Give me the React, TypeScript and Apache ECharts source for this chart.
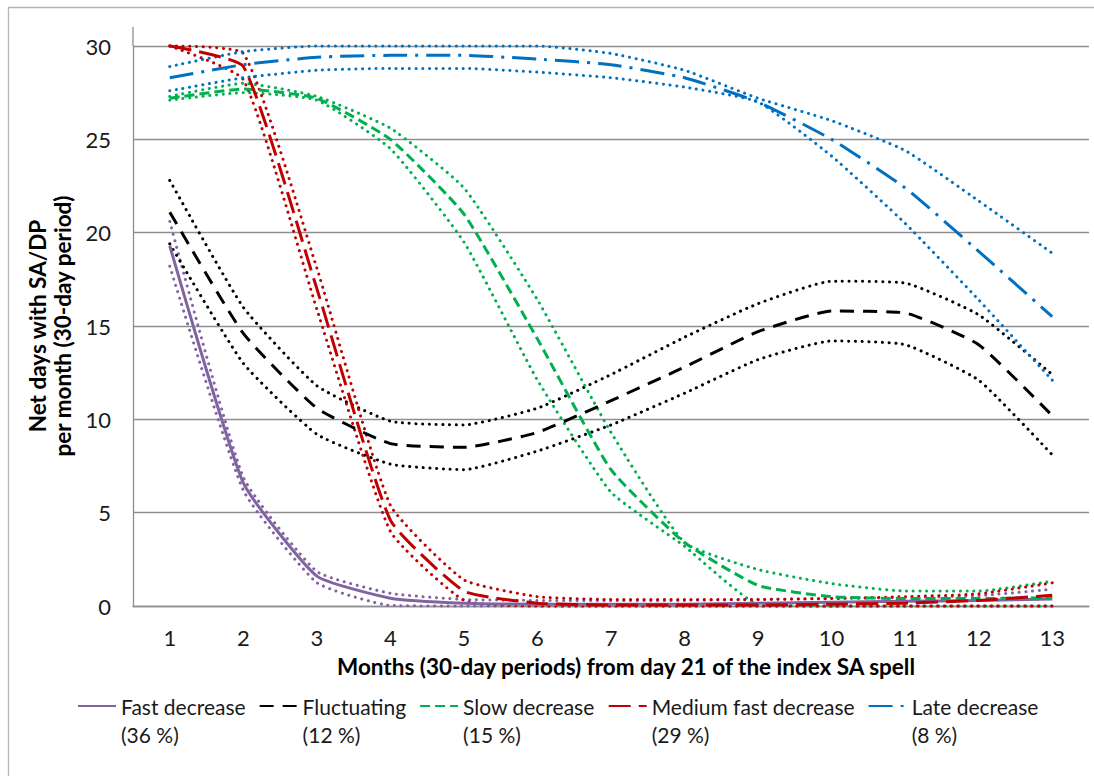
import React, { useEffect, useRef } from "react";
import * as echarts from "echarts";

const categories = ["1", "2", "3", "4", "5", "6", "7", "8", "9", "10", "11", "12", "13"];

const legendNames = ["Fast decrease", "Fluctuating", "Slow decrease", "Medium fast decrease", "Late decrease"];
const legendShares = ["36 %", "12 %", "15 %", "29 %", "8 %"];

const fast = [19.3, 6.6, 1.6, 0.42, 0.15, 0.1, 0.1, 0.1, 0.15, 0.2, 0.25, 0.3, 0.38];
const fastHi = [20.6, 6.9, 1.85, 0.68, 0.35, 0.3, 0.3, 0.3, 0.35, 0.4, 0.45, 0.55, 0.9];
const fastLo = [18.2, 6.2, 1.25, 0.03, 0, 0, 0, 0, 0, 0, 0, 0, 0];

const fluct = [21.1, 14.6, 10.6, 8.7, 8.5, 9.3, 11.0, 12.8, 14.7, 15.8, 15.7, 14.0, 10.2];
const fluctHi = [22.8, 16.0, 11.8, 9.9, 9.7, 10.6, 12.4, 14.4, 16.2, 17.4, 17.3, 15.6, 12.4];
const fluctLo = [19.4, 13.0, 9.2, 7.6, 7.3, 8.3, 9.7, 11.4, 13.2, 14.2, 14.0, 12.1, 8.1];

const slow = [27.2, 27.7, 27.2, 25.0, 21.0, 14.3, 7.3, 3.4, 1.1, 0.5, 0.4, 0.4, 0.45];
const slowHi = [27.3, 28.0, 27.3, 25.6, 22.4, 16.4, 9.3, 3.4, 1.95, 1.2, 0.8, 0.8, 1.33];
const slowLo = [27.1, 27.5, 27.1, 24.5, 19.5, 12.1, 6.1, 3.2, 0.1, 0, 0, 0, 0];

const medium = [30.0, 28.9, 17.0, 4.6, 0.8, 0.15, 0.05, 0.05, 0.05, 0.1, 0.15, 0.3, 0.57];
const mediumHi = [30.0, 29.6, 18.1, 5.4, 1.4, 0.5, 0.35, 0.35, 0.35, 0.4, 0.5, 0.65, 1.24];
const mediumLo = [30.0, 28.2, 15.9, 4.0, 0.3, 0, 0, 0, 0, 0, 0, 0, 0];

const late = [28.3, 29.0, 29.4, 29.5, 29.5, 29.3, 29.0, 28.3, 27.0, 25.0, 22.4, 19.0, 15.5];
const lateHi = [28.9, 29.7, 30.0, 30.0, 30.0, 30.0, 29.6, 28.7, 27.2, 26.0, 24.4, 21.7, 18.9];
const lateLo = [27.6, 28.3, 28.7, 28.8, 28.8, 28.6, 28.3, 27.8, 27.0, 24.1, 20.5, 16.4, 12.1];

const FONT = "Lato, 'Open Sans', 'Liberation Sans', sans-serif";
const GRID_GRAY = "#8e8e8e";
const SMOOTH = 0.15;

const PURPLE = "#8064A2";
const BLACK = "#000000";
const GREEN = "#00B050";
const RED = "#C00000";
const BLUE = "#0070C0";

function mainLine(name: string, data: number[], color: string, type: any) {
  return {
    name,
    type: "line",
    data,
    smooth: SMOOTH,
    symbol: "none",
    clip: false,
    z: 3,
    lineStyle: { color, width: 3, type, cap: "butt" },
    itemStyle: { color },
  };
}

function ciLine(id: string, data: number[], color: string) {
  return {
    name: id,
    type: "line",
    data,
    smooth: SMOOTH,
    symbol: "none",
    clip: false,
    silent: true,
    z: 2,
    lineStyle: { color, width: 3, type: [0.1, 6.6], cap: "round" },
    itemStyle: { color },
  };
}

export default function App() {
  const ref = useRef<HTMLDivElement>(null);

  useEffect(() => {
    document.body.style.margin = "0";
    const chart = echarts.init(ref.current!, null, { renderer: "svg" });
    const shareMap: Record<string, string> = {};
    legendNames.forEach((n, i) => (shareMap[n] = legendShares[i]));

    chart.setOption({
      animation: false,
      backgroundColor: "#ffffff",
      textStyle: { fontFamily: FONT },
      grid: { left: 133, right: 5, top: 46, bottom: 170, containLabel: false },
      xAxis: {
        type: "category",
        data: categories,
        boundaryGap: true,
        axisLine: { show: true, lineStyle: { color: GRID_GRAY, width: 1.3 } },
        axisTick: { show: false },
        axisLabel: { color: "#1a1a1a", fontSize: 22, fontFamily: FONT, margin: 20 },
        name: "Months (30-day periods) from day 21 of the index SA spell",
        nameLocation: "middle",
        nameGap: 49,
        nameTextStyle: { color: "#000", fontSize: 22.5, fontWeight: "bold", fontFamily: FONT, padding: [0, 0, 0, 30] },
      },
      yAxis: {
        type: "value",
        min: 0,
        max: 30,
        interval: 5,
        axisLine: { show: true, lineStyle: { color: GRID_GRAY, width: 1.3 } },
        axisTick: { show: false },
        splitLine: { show: true, lineStyle: { color: GRID_GRAY, width: 1.3 } },
        axisLabel: { color: "#1a1a1a", fontSize: 22, fontFamily: FONT, margin: 22 },
        name: "Net days with SA/DP\nper month (30-day period)",
        nameLocation: "middle",
        nameGap: 46,
        nameRotate: 90,
        nameTextStyle: { color: "#000", fontSize: 22.5, fontWeight: "bold", fontFamily: FONT, lineHeight: 25 },
      },
      legend: {
        data: legendNames,
        left: 72,
        top: 659,
        itemWidth: 38,
        itemHeight: 14,
        itemGap: 13,
        itemStyle: { opacity: 0 },
        formatter: (name: string) => ` \n${name}\n(${shareMap[name]})`,
        textStyle: { color: "#1a1a1a", fontSize: 21, fontFamily: FONT, lineHeight: 28 },
      },
      graphic: [
        {
          type: "rect",
          shape: { x: 8.5, y: 7.5, width: 1100, height: 800 },
          style: { fill: "none", stroke: "#b5b5b5", lineWidth: 1.3 },
          silent: true,
        },
        {
          type: "line",
          shape: { x1: 133, y1: 27, x2: 133, y2: 46 },
          style: { stroke: GRID_GRAY, lineWidth: 1.3 },
          silent: true,
        },
      ],
      series: [
        ciLine("fastHi", fastHi, PURPLE),
        ciLine("fastLo", fastLo, PURPLE),
        ciLine("fluctHi", fluctHi, BLACK),
        ciLine("fluctLo", fluctLo, BLACK),
        ciLine("slowHi", slowHi, GREEN),
        ciLine("slowLo", slowLo, GREEN),
        ciLine("mediumHi", mediumHi, RED),
        ciLine("mediumLo", mediumLo, RED),
        ciLine("lateHi", lateHi, BLUE),
        ciLine("lateLo", lateLo, BLUE),
        mainLine("Fast decrease", fast, PURPLE, "solid"),
        mainLine("Fluctuating", fluct, BLACK, [14, 9]),
        mainLine("Slow decrease", slow, GREEN, [10, 5]),
        mainLine("Medium fast decrease", medium, RED, [22, 8]),
        mainLine("Late decrease", late, BLUE, [24, 8, 3, 8]),
      ],
    });
    return () => chart.dispose();
  }, []);

  return <div ref={ref} style={{ width: 1094, height: 776 }} />;
}
